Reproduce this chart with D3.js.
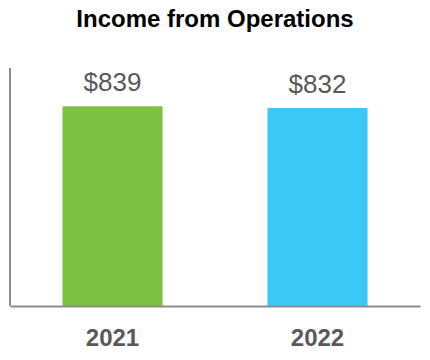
<!DOCTYPE html>
<html>
<head>
<meta charset="utf-8">
<script src="https://cdn.jsdelivr.net/npm/d3@7"></script>
<style>
  body { margin: 0; background: #fff; }
  text { font-family: "Liberation Sans", Arial, sans-serif; }
</style>
</head>
<body>
<div id="chart"></div>
<script>
const years = ["2021", "2022"]
const values = [839, 832]
const colors = ["#7dc142", "#3cc8f4"]

const margin = ({top: 68, right: 10, bottom: 54, left: 10})
const width = 430 - margin.left - margin.right
const height = 360 - margin.top - margin.bottom

const svg = d3.select("#chart").append("svg")
    .attr("width", 430)
    .attr("height", 360)

svg.append("text")
    .attr("x", 215)
    .attr("y", 27)
    .attr("text-anchor", "middle")
    .attr("font-size", 24)
    .attr("font-weight", "bold")
    .attr("fill", "#000")
    .text("Income from Operations")

const g = svg.append("g")
    .attr("transform", `translate(${margin.left},${margin.top})`)

const x = d3.scaleBand()
    .domain(years)
    .range([0, width])
    .paddingInner(0.512)
    .paddingOuter(0.256)

const y = d3.scaleLinear()
    .domain([0, 1000])
    .range([height, 0])

g.selectAll(".bar")
    .data(values)
    .join("rect")
    .attr("class", "bar")
    .attr("x", (d, i) => x(years[i]))
    .attr("y", d => y(d))
    .attr("width", x.bandwidth())
    .attr("height", d => height - y(d))
    .attr("fill", (d, i) => colors[i])

g.selectAll(".val")
    .data(values)
    .join("text")
    .attr("class", "val")
    .attr("x", (d, i) => x(years[i]) + x.bandwidth() / 2)
    .attr("y", d => y(d) - 15)
    .attr("text-anchor", "middle")
    .attr("font-size", 26)
    .attr("fill", "#595959")
    .text(d => "$" + d)

// axes: plain gray lines, no ticks
const xAxis = d3.axisBottom(x).tickSize(0).tickPadding(23)
g.append("g")
    .attr("class", "x-axis")
    .attr("transform", `translate(0,${height})`)
    .call(xAxis)
    .call(a => a.select(".domain").attr("stroke", "#8c8c8c").attr("stroke-width", 2))
    .call(a => a.selectAll("text")
        .attr("font-size", 24)
        .attr("font-weight", "bold")
        .attr("fill", "#595959")
        .attr("font-family", "Liberation Sans, Arial, sans-serif"))

g.append("line")
    .attr("x1", 0).attr("x2", 0)
    .attr("y1", 0).attr("y2", height)
    .attr("stroke", "#8c8c8c")
    .attr("stroke-width", 2)
</script>
</body>
</html>
